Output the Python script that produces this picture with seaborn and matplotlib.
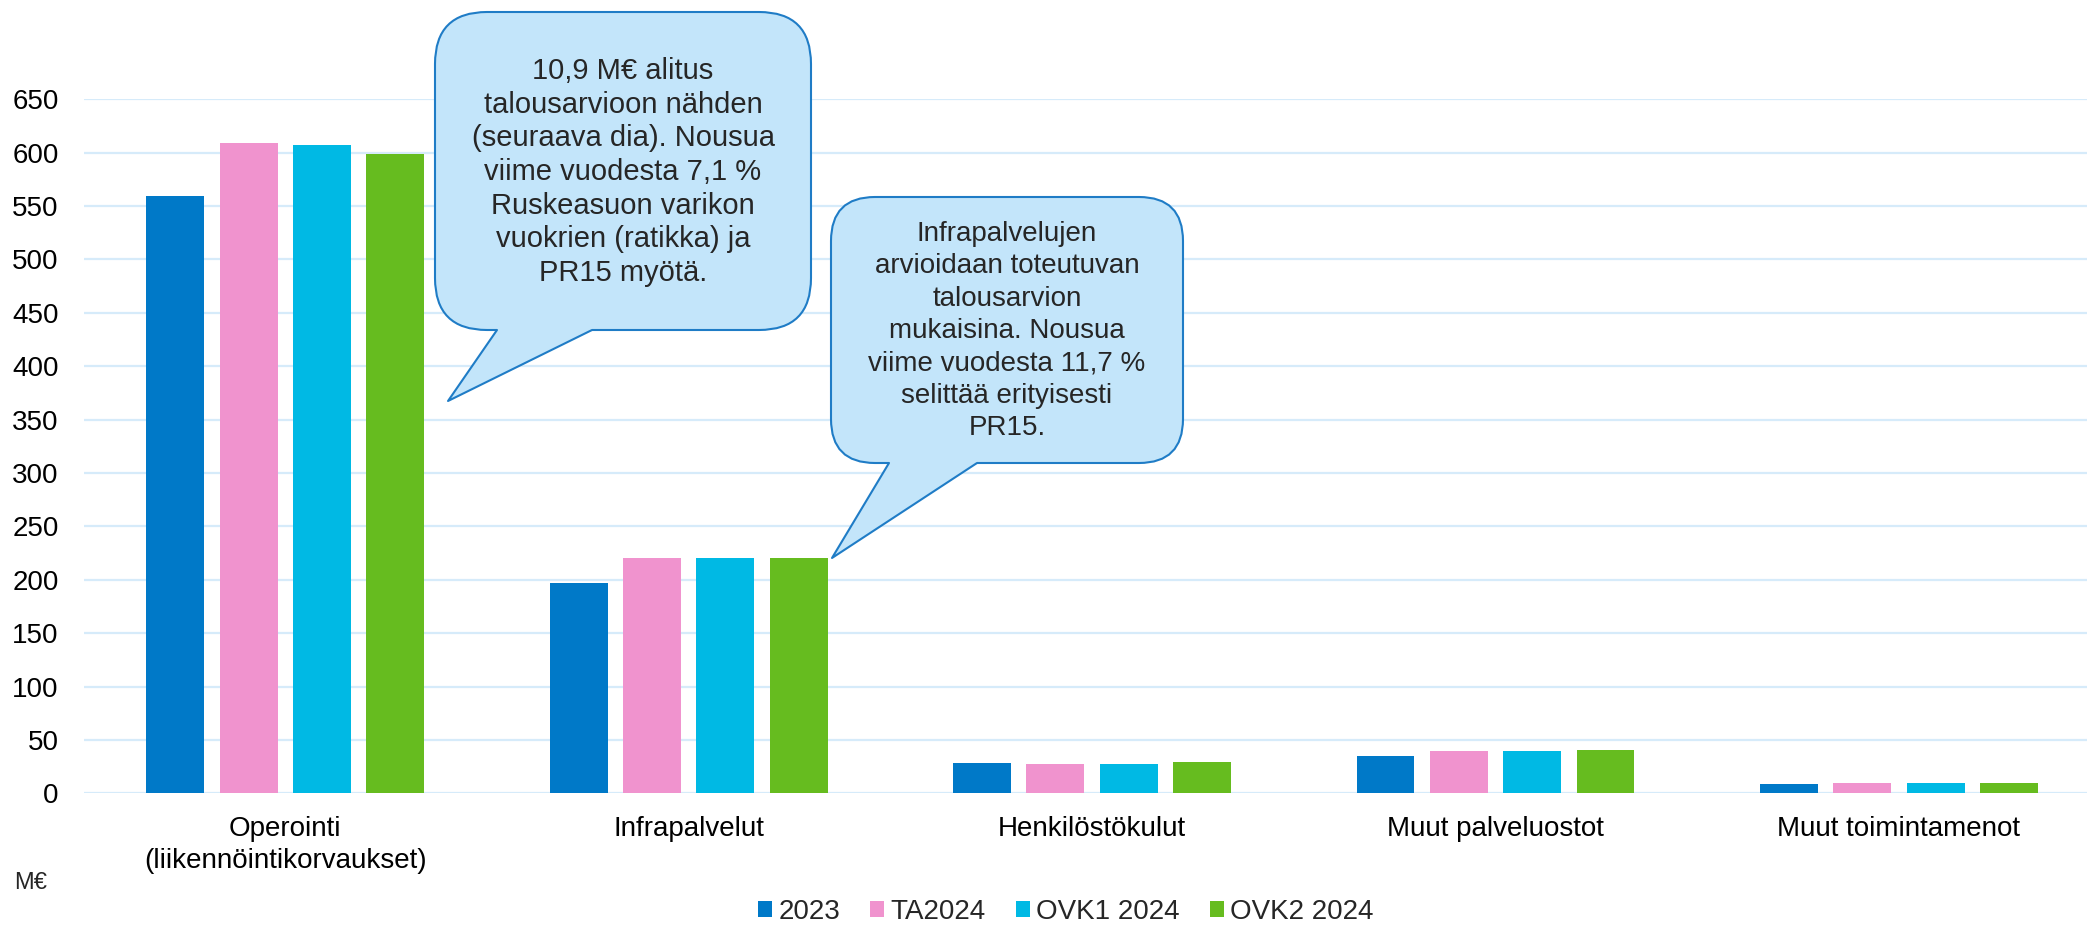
import numpy as np
import pandas as pd

import matplotlib as mpl
import matplotlib.pyplot as plt
from matplotlib.patches import FancyBboxPatch, Polygon
from matplotlib.lines import Line2D
from matplotlib.transforms import IdentityTransform

import seaborn as sns

# data (M€)
categories = ['Operointi\n(liikennöintikorvaukset)', 'Infrapalvelut', 'Henkilöstökulut',
              'Muut palveluostot', 'Muut toimintamenot']
series = ['2023', 'TA2024', 'OVK1 2024', 'OVK2 2024']
v_2023 = [559, 197, 28, 35, 8.5]
v_ta2024 = [609, 220, 27, 40, 9.5]
v_ovk1 = [607, 220, 27, 40, 9.5]
v_ovk2 = [599, 220, 29, 41, 9.5]
colors = ['#0079C8', '#F093CE', '#00B9E4', '#66BC1F']
y_ticks = list(range(0, 651, 50))

df = pd.DataFrame({
    'kategoria': categories * 4,
    'sarja': np.repeat(series, len(categories)),
    'arvo': v_2023 + v_ta2024 + v_ovk1 + v_ovk2,
})

sns.set_theme(style='white')
plt.rcParams['font.family'] = ['Liberation Sans', 'DejaVu Sans']

W, H = 2087, 925
fig = plt.figure(figsize=(W / 100, H / 100), dpi=100)
# plot area runs a little past the right edge of the figure, like in the source slide
ax = fig.add_axes([83.6 / W, (H - 793.3) / H, 2017 / W, (793.3 - 99.3) / H])

sns.barplot(data=df, x='kategoria', y='arvo', hue='sarja', palette=colors,
            width=0.727, gap=0.21, ax=ax, linewidth=0, saturation=1)

ax.set_ylim(0, 650)
ax.set_xlim(-0.5, len(categories) - 0.5)
ax.set_yticks(y_ticks)
ax.yaxis.grid(True, color='#D6EBFA', linewidth=1.6)
ax.set_axisbelow(True)
ax.set(xlabel='', ylabel='')
sns.despine(ax=ax, left=True, bottom=True)
ax.tick_params(axis='y', length=0, pad=18, labelsize=20, labelcolor='black')
ax.tick_params(axis='x', length=0, pad=16, labelsize=20, labelcolor='black')
for lbl in ax.get_xticklabels():
    lbl.set_linespacing(1.3)

handles, labels = ax.get_legend_handles_labels()
ax.get_legend().remove()
fig.legend(handles, labels, loc='center', bbox_to_anchor=(1066 / W, 13 / H), ncol=4,
           frameon=False, fontsize=20, handlelength=0.5, handleheight=0.5,
           handletextpad=0.23, columnspacing=1.08)

fig.text(14, H - 883, 'M€', fontsize=17, ha='left', va='center', transform=IdentityTransform())


def callout(x0, x1, y0, y1, base_l, base_r, tip, radius, text, tx, ty, size, spacing):
    # speech bubble drawn in pixel coordinates (origin bottom left)
    fill, edge = '#C3E5FA', '#1F7CC6'
    t = IdentityTransform()
    box = FancyBboxPatch((x0, y0), x1 - x0, y1 - y0,
                         boxstyle=f'round,pad=0,rounding_size={radius}',
                         facecolor=fill, edgecolor=edge, linewidth=1.5, transform=t, zorder=5)
    fig.add_artist(box)
    tail = Polygon([(base_l, y0 + 3), (base_l, y0), tip, (base_r, y0), (base_r, y0 + 3)],
                   closed=True, facecolor=fill, edgecolor='none', transform=t, zorder=6)
    fig.add_artist(tail)
    fig.add_artist(Line2D([base_l, tip[0], base_r], [y0, tip[1], y0], color=edge,
                          linewidth=1.5, transform=t, zorder=7))
    fig.text(tx, ty, text, fontsize=size, ha='center', va='center', transform=t, zorder=8,
             linespacing=spacing)


callout(435, 811, H - 330, H - 12, 497, 592, (448, H - 401), 52,
        '10,9 M€ alitus\ntalousarvioon nähden\n(seuraava dia). Nousua\nviime vuodesta 7,1 %\n'
        'Ruskeasuon varikon\nvuokrien (ratikka) ja\nPR15 myötä.', 623, H - 172, 21, 1.26)
callout(831, 1183, H - 463, H - 197, 889, 977, (832, H - 558), 44,
        'Infrapalvelujen\narvioidaan toteutuvan\ntalousarvion\nmukaisina. Nousua\n'
        'viime vuodesta 11,7 %\nselittää erityisesti\nPR15.', 1007, H - 331, 20, 1.32)

fig.savefig('out.png', dpi=100)
